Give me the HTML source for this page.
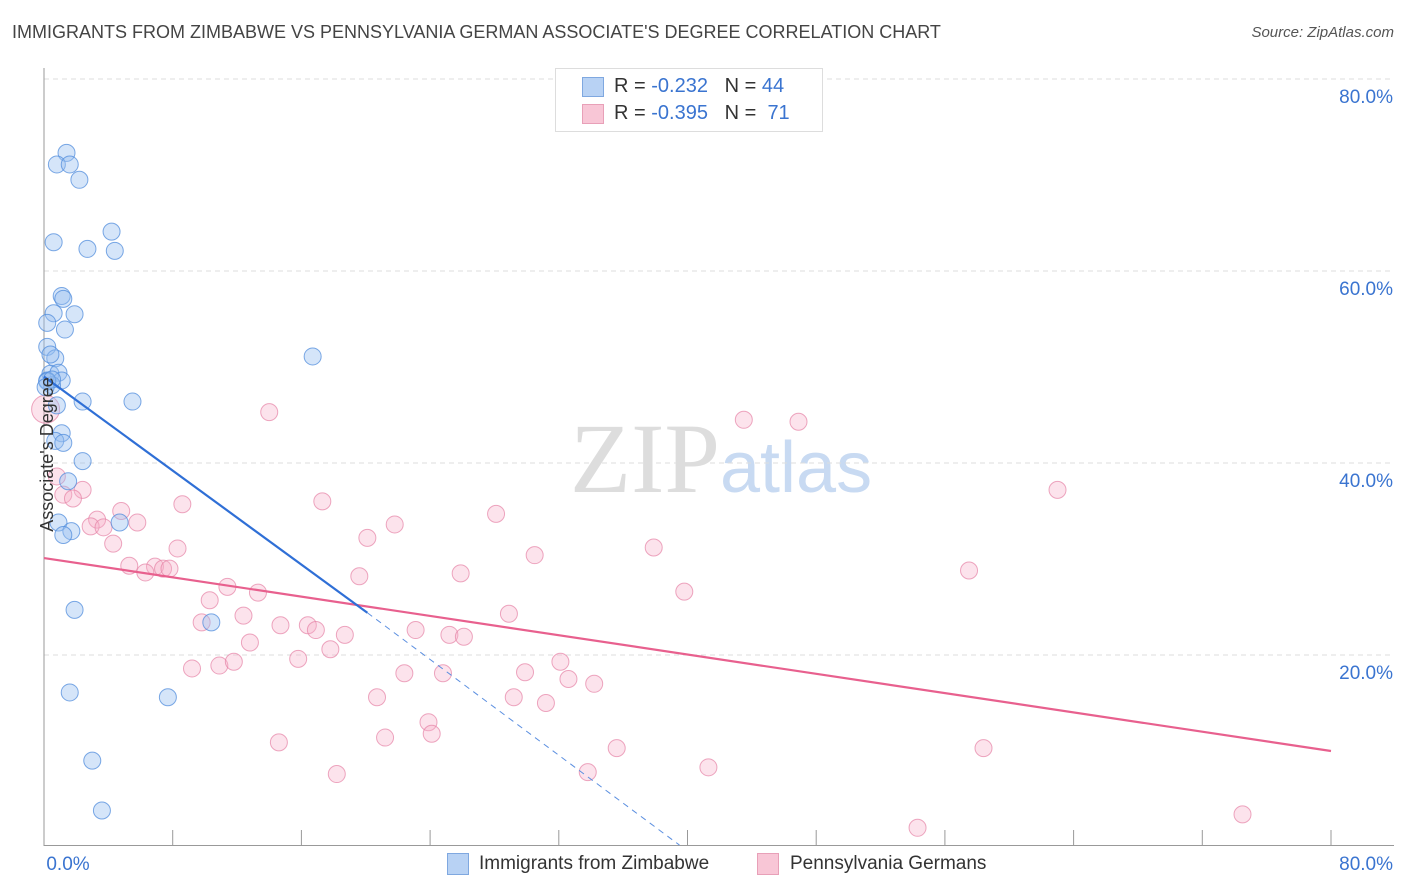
<!DOCTYPE html>
<html><head><meta charset="utf-8">
<style>
body{margin:0;background:#fff;font-family:"Liberation Sans",sans-serif;}
#wrap{position:relative;width:1406px;height:892px;overflow:hidden;}
.t{position:absolute;white-space:nowrap;}
</style></head>
<body>
<div id="wrap">
<div class="t" style="left:12px;top:22px;font-size:18px;color:#444;">IMMIGRANTS FROM ZIMBABWE VS PENNSYLVANIA GERMAN ASSOCIATE'S DEGREE CORRELATION CHART</div>
<div class="t" style="right:12px;top:24px;font-size:15px;color:#555;font-style:italic;">Source: ZipAtlas.com</div>
<svg id="svg" width="1406" height="892" style="position:absolute;left:0;top:0">
<text x="720" y="492" text-anchor="end" font-family="Liberation Serif" font-size="100" fill="#ddd">ZIP</text>
<text x="720" y="492" font-family="Liberation Sans" font-size="72" fill="#c8daf2">atlas</text>
</svg>
<div class="t" style="left:-30px;top:444px;font-size:18px;color:#333;transform:rotate(-90deg);">Associate's Degree</div>
<div style="position:absolute;left:555px;top:68px;width:266px;height:62px;border:1px solid #ddd;background:#fff;font-size:20px;">
 <div style="position:absolute;left:26px;top:8px;width:20px;height:18px;background:#b8d2f4;border:1px solid #7fa8e0"></div>
 <div class="t" style="left:58px;top:6px;color:#333">R = <span style="color:#3a74d0">-0.232</span> &nbsp; N = <span style="color:#3a74d0">44</span></div>
 <div style="position:absolute;left:26px;top:35px;width:20px;height:18px;background:#f8c6d6;border:1px solid #e8a0b8"></div>
 <div class="t" style="left:58px;top:33px;color:#333">R = <span style="color:#3a74d0">-0.395</span> &nbsp; N = &nbsp;<span style="color:#3a74d0">71</span></div>
</div>
<div style="position:absolute;left:447px;top:853px;width:20px;height:20px;background:#b8d2f4;border:1px solid #7fa8e0"></div>
<div class="t" style="left:479px;top:853px;font-size:19px;color:#333">Immigrants from Zimbabwe</div>
<div style="position:absolute;left:757px;top:853px;width:20px;height:20px;background:#f8c6d6;border:1px solid #e8a0b8"></div>
<div class="t" style="left:790px;top:853px;font-size:19px;color:#333">Pennsylvania Germans</div>
</div>
<script>
const yTicks=[20,40,60,80];
const xLabels=["0.0%","80.0%"];
const blueX=[1.4,0.8,1.6,2.2,0.6,4.2,2.7,4.4,1.1,1.2,0.6,1.9,0.2,1.3,0.2,0.7,16.7,0.4,0.9,0.2,1.1,0.5,2.4,5.5,0.8,1.1,0.7,1.2,2.4,1.5,0.9,4.7,1.7,1.2,1.9,10.4,1.6,7.7,3,3.6,0.2,0.5,0.1,0.4];
const blueY=[72.3,71.1,71.1,69.5,63,64.1,62.3,62.1,57.4,57.1,55.6,55.5,54.6,53.9,52.1,50.9,51.1,49.3,49.4,48.6,48.6,48.1,46.4,46.4,46,43.1,42.3,42.1,40.2,38.1,33.8,33.8,32.9,32.5,24.7,23.4,16.1,15.6,9,3.8,48.5,48.7,47.9,51.3];
const pinkX=[14,43.5,46.9,63,0.8,2.4,1.2,1.8,17.3,8.6,4.8,3.3,28.1,21.8,2.9,3.7,5.8,20.1,4.3,37.9,8.3,30.5,5.3,6.9,6.3,7.4,7.8,25.9,19.6,57.5,11.4,39.8,13.3,10.3,12.4,28.9,9.8,14.7,16.4,16.9,23.1,18.7,25.2,26.1,12.8,17.8,15.8,32.1,9.2,10.9,11.8,29.9,32.6,34.2,22.4,24.8,20.7,29.2,31.2,23.9,24.1,21.2,14.6,35.6,58.4,18.2,33.8,41.3,54.3,74.5,0.1];
const pinkY=[45.3,44.5,44.3,37.2,38.6,37.2,36.7,36.3,36,35.7,35,34.1,34.7,33.6,33.4,33.3,33.8,32.2,31.6,31.2,31.1,30.4,29.3,29.2,28.6,29,29,28.5,28.2,28.8,27.1,26.6,26.5,25.7,24.1,24.3,23.4,23.1,23.1,22.6,22.6,22.1,22.1,21.9,21.3,20.6,19.6,19.3,18.6,18.9,19.3,18.2,17.5,17,18.1,18.1,15.6,15.6,15,13,11.8,11.4,10.9,10.3,10.3,7.6,7.8,8.3,2,3.4,45.6];
const blueFit=[[0,49],[20.1,24.4]];
const blueDash=[[20.1,24.4],[39.5,0.2]];
const pinkFit=[[0,30.1],[80,10]];
const xs=v=>44+v/80*1287, ys=v=>847-v/80*768;
const svg=document.getElementById('svg'), NS='http://www.w3.org/2000/svg';
function mk(t,a){const e=document.createElementNS(NS,t);for(const k in a)e.setAttribute(k,a[k]);svg.appendChild(e);return e;}
yTicks.forEach(v=>{
 const l=mk('line',{x1:44,x2:1394,y1:ys(v),y2:ys(v),stroke:'#ddd','stroke-dasharray':'5,4'});
 
 
 const t=mk('text',{x:1393,y:ys(v)+24,'text-anchor':'end','font-size':19,fill:'#3a74d0','font-family':'Liberation Sans'});
 t.textContent=v.toFixed(1)+'%';
 
 
});
const ax=mk('line',{x1:44,x2:44,y1:68,y2:846,stroke:'#999'});


const bx=mk('line',{x1:44,x2:1394,y1:845.5,y2:845.5,stroke:'#999'});


for(let i=0;i<=10;i++){
 const t=mk('line',{x1:xs(i*8),x2:xs(i*8),y1:830,y2:846,stroke:'#999'});
 
 
}
[[xLabels[0],68,'middle'],[xLabels[1],1393,'end']].forEach(([s,x,a])=>{
 const t=mk('text',{x:x,y:870,'text-anchor':a,'font-size':19,fill:'#3a74d0','font-family':'Liberation Sans'});
 t.textContent=s;
 
 
});
pinkX.forEach((x,i)=>{
 const c=mk('circle',{cx:xs(x),cy:ys(pinkY[i]),r:i==pinkX.length-1?14:8.5,fill:'rgba(245,175,200,0.35)',stroke:'rgba(230,130,165,0.7)','stroke-width':1});
 
 
});
blueX.forEach((x,i)=>{
 const c=mk('circle',{cx:xs(x),cy:ys(blueY[i]),r:8.5,fill:'rgba(150,190,240,0.4)',stroke:'rgba(80,140,220,0.75)','stroke-width':1});
 
 
});
function ln(p,st,w,dash,name){const l=mk('line',{x1:xs(p[0][0]),y1:ys(p[0][1]),x2:xs(p[1][0]),y2:ys(p[1][1]),stroke:st,'stroke-width':w});if(dash)l.setAttribute('stroke-dasharray',dash);
 
 }
ln(pinkFit,'#e8608e',2.2,null,'pa-german-trendline');
ln(blueFit,'#2f6fd6',2.2,null,'zimbabwe-trendline');
ln(blueDash,'#5b8fe0',1,'6,5','zimbabwe-trendline-extension');
</script>
</body></html>
